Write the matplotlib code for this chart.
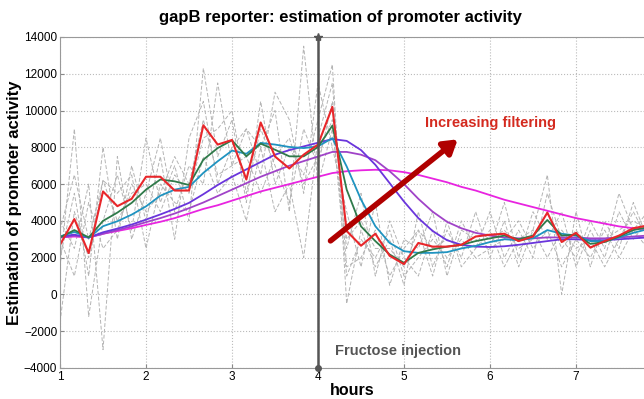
import numpy as np
import matplotlib
matplotlib.use("Agg")
import matplotlib.pyplot as plt

plt.rcParams['font.family'] = ['Liberation Sans', 'DejaVu Sans']

# sample times (hours), one every 10 minutes
hours = [1 + i / 6 for i in range(42)]

raw = [2700, 4100, 2250, 5600, 4800, 5200, 6400, 6400, 5650, 5650,
       9200, 8150, 8400, 6250, 9350, 7500, 6850, 7600, 8150, 10200,
       3450, 2650, 3300, 2100, 1650, 2800, 2600, 2600, 2700, 3150,
       3250, 3300, 2900, 3150, 4450, 2850, 3350, 2550, 2900, 3200,
       3600, 3750]
filt1 = [3100, 3500, 3100, 4000, 4450, 4980, 5700, 6250, 6150, 5950,
         7330, 7960, 8380, 7510, 8200, 7870, 7510, 7510, 8020, 9180,
         5700, 3700, 2900, 2170, 1720, 2260, 2450, 2600, 2700, 2900,
         3050, 3200, 3000, 3200, 4050, 3200, 3250, 2750, 2850, 3150,
         3500, 3650]
filt2 = [3150, 3400, 3080, 3710, 3980, 4340, 4790, 5370, 5700, 5850,
         6610, 7240, 7820, 7650, 8240, 8150, 8020, 7960, 8050, 8500,
         6960, 5160, 3710, 2800, 2350, 2260, 2260, 2300, 2500, 2640,
         2850, 3000, 2950, 3050, 3500, 3300, 3200, 2900, 2900, 3100,
         3350, 3550]
filt3 = [3150, 3250, 3100, 3380, 3580, 3800, 4070, 4350, 4650, 4980,
         5450, 5950, 6400, 6800, 7200, 7600, 7850, 8050, 8250, 8450,
         8350, 7850, 7050, 6050, 5050, 4150, 3450, 2950, 2700, 2600,
         2580, 2620, 2700, 2800, 2900, 3000, 3000, 2950, 2950, 3000,
         3050, 3100]
filt4 = [3100, 3200, 3100, 3300, 3500, 3700, 3930, 4150, 4400, 4690,
         5000, 5350, 5700, 6050, 6400, 6700, 7000, 7250, 7500, 7750,
         7750, 7600, 7300, 6700, 6000, 5200, 4500, 3950, 3600, 3350,
         3200, 3100, 3050, 3050, 3100, 3100, 3100, 3050, 3050, 3100,
         3150, 3200]
filt5 = [3100, 3150, 3100, 3300, 3450, 3600, 3780, 3950, 4150, 4400,
         4650, 4850, 5100, 5350, 5600, 5800, 6000, 6200, 6400, 6600,
         6700, 6750, 6780, 6750, 6650, 6500, 6300, 6100, 5850, 5650,
         5400, 5150, 4950, 4750, 4550, 4350, 4150, 4000, 3850, 3700,
         3600, 3550]

# individual noisy estimates (grey dashed)
rep1 = [1500, 9000, -1200, 4000, 6500, 3500, 8500, 5000, 7000, 4000,
        12300, 7500, 9500, 5000, 10500, 6000, 8000, 6500, 9500, 12500,
        -500, 3500, 1500, 3000, 500, 4500, 1500, 3500, 2000, 4500,
        2000, 4000, 1500, 3500, 6500, 0, 4500, 1500, 4000, 2500,
        5000, 3000]
rep2 = [4000, 2500, 6000, -3000, 7500, 3000, 5500, 8500, 4500, 7000,
        6000, 11500, 7000, 9000, 8000, 10000, 4500, 13500, 6000, 9000,
        2500, 5500, 1000, 4000, 2000, 1000, 3500, 1500, 4000, 2500,
        4500, 2000, 3500, 2000, 5500, 3000, 2000, 4000, 2500, 5500,
        3500, 4500]
rep3 = [2000, 5500, 1000, 8000, 3000, 7000, 4000, 7500, 3000, 8500,
        10500, 6000, 8000, 9000, 6500, 11000, 9500, 5500, 11500, 8000,
        4500, 1500, 5000, 500, 3000, 2500, 4500, 1000, 3500, 3000,
        2500, 5000, 2000, 4500, 3000, 4500, 1500, 3500, 2000, 4500,
        3000, 4000]
rep4 = [3500, 6500, 3000, 6200, 4000, 5500, 6000, 4500, 6500, 5500,
        8500, 9000, 10000, 5500, 9000, 7000, 5000, 9000, 7000, 10500,
        3000, 4000, 2500, 2500, 1500, 3500, 2500, 3000, 2500, 3500,
        3000, 3500, 2500, 3000, 4500, 2500, 3500, 2500, 3000, 3500,
        4000, 3500]
rep5 = [-1500, 4500, 2000, 6200, 5500, 6500, 2500, 6000, 5000, 4500,
        7500, 5500, 6500, 4000, 8000, 4500, 6000, 2000, 8500, 11500,
        1500, 2000, 3500, 1000, 2500, 3500, 1000, 4000, 1500, 2500,
        3500, 1500, 3000, 3500, 2000, 3500, 2500, 3000, 1500, 3000,
        4500, 3000]
rep6 = [3000, 1000, 5000, 2500, 3500, 6000, 4500, 5500, 7500, 6000,
        9500, 6500, 7000, 7500, 5500, 7500, 8500, 6000, 7500, 9500,
        1000, 3000, 2000, 3500, 1000, 2000, 3000, 2000, 3000, 2000,
        2500, 3000, 4000, 2500, 3500, 1500, 3000, 2000, 3500, 2000,
        3500, 2500]

fig = plt.figure(figsize=(6.44, 3.99), dpi=100)
ax = fig.add_axes([0.0932, 0.0777, 0.9068, 0.8296])

for rep in [rep1, rep2, rep3, rep4, rep5, rep6]:
    ax.plot(hours, rep, color='#b4b4b4', linestyle='--', linewidth=0.7, dashes=(4, 2))

ax.plot(hours, filt5, color='#e824e0', linewidth=1.3)
ax.plot(hours, filt4, color='#a043c8', linewidth=1.3)
ax.plot(hours, filt3, color='#6a35dc', linewidth=1.3)
ax.plot(hours, filt2, color='#1f93c0', linewidth=1.3)
ax.plot(hours, filt1, color='#2f7a4a', linewidth=1.3)
ax.plot(hours, raw, color='#e8262a', linewidth=1.5)

# injection marker
ax.plot([4, 4], [-4000, 14000], color='#555555', linewidth=1.8, zorder=5)
ax.plot([4], [14000], marker='*', color='#555555', markersize=6, zorder=6, clip_on=False)
ax.plot([4], [-4000], marker='o', color='#555555', markersize=4, zorder=6, clip_on=False)
ax.text(4.2, -3100, 'Fructose injection', color='#555555', fontsize=10.5,
        fontweight='bold', va='center', ha='left')

ax.annotate('', xy=(5.65, 8530), xytext=(4.12, 2820),
            arrowprops=dict(arrowstyle='-|>,head_length=0.8,head_width=0.5',
                            color='#b00000', linewidth=4))
ax.text(5.24, 9340, 'Increasing filtering', color='#d42a1f', fontsize=10.5,
        fontweight='bold', va='center', ha='left')

ax.set_xlim(1, 1 + 584 / 86)
ax.set_ylim(-4000, 14000)
ax.set_xticks([1, 2, 3, 4, 5, 6, 7])
ax.set_yticks(np.arange(-4000, 14001, 2000))
ax.tick_params(labelsize=8.5, length=3, direction='in', color='#888888', pad=2)
ax.grid(True, linestyle=':', color='#bbbbbb', linewidth=0.8)
for s in ['left', 'bottom', 'top']:
    ax.spines[s].set_color('#999999')
ax.spines['right'].set_visible(False)

ax.set_xlabel('hours', fontsize=11.5, fontweight='bold', labelpad=0)
ax.set_ylabel('Estimation of promoter activity', fontsize=12, fontweight='bold', labelpad=1)
fig.text(0.528, 0.955, 'gapB reporter: estimation of promoter activity',
         fontsize=12, fontweight='bold', ha='center', va='center')

fig.savefig('out.png', dpi=100)
